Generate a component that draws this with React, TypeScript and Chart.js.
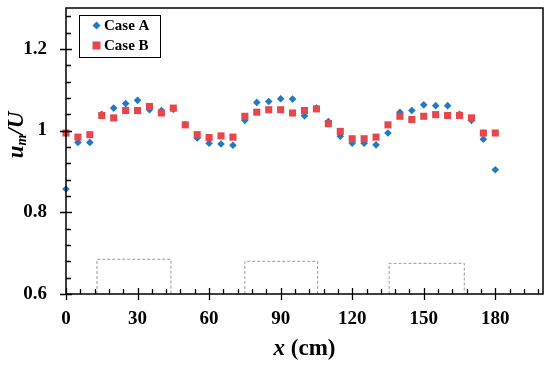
import React, { useEffect, useRef } from "react";
import { Chart, registerables } from "chart.js";

Chart.register(...registerables);

const positions = [0, 5, 10, 15, 20, 25, 30, 35, 40, 45, 50, 55, 60, 65, 70, 75, 80, 85, 90, 95, 100, 105, 110, 115, 120, 125, 130, 135, 140, 145, 150, 155, 160, 165, 170, 175, 180];
const caseA = [0.857, 0.971, 0.971, 1.04, 1.055, 1.066, 1.074, 1.051, 1.049, 1.052, 1.015, 0.982, 0.969, 0.967, 0.964, 1.025, 1.069, 1.071, 1.078, 1.077, 1.036, 1.055, 1.022, 0.986, 0.969, 0.969, 0.965, 0.994, 1.045, 1.049, 1.063, 1.061, 1.061, 1.04, 1.025, 0.979, 0.904];
const caseB = [0.994, 0.984, 0.99, 1.037, 1.031, 1.049, 1.049, 1.059, 1.043, 1.055, 1.014, 0.99, 0.983, 0.987, 0.984, 1.035, 1.045, 1.051, 1.051, 1.043, 1.049, 1.053, 1.017, 0.998, 0.98, 0.98, 0.984, 1.014, 1.035, 1.027, 1.035, 1.039, 1.037, 1.037, 1.031, 0.994, 0.994];

const boxStarts = [13, 75, 135.5];
const boxEnds = [44, 105.5, 167];
const boxTops = [0.685, 0.68, 0.675];
const boxBase = 0.6;

const xTickValues = [0, 30, 60, 90, 120, 150, 180];
const yTickValues = [0.6, 0.8, 1, 1.2];
const xMinorStep = 6;
const yMinorStep = 0.04;

const seriesNames = ["Case A", "Case B"];
const blue = "#1f7ac3";
const red = "#e5474c";
const serif = "'Liberation Serif', 'Times New Roman', serif";

const decorPlugin = {
  id: "decor",
  afterDraw(chart: any) {
    const ctx = chart.ctx;
    const area = chart.chartArea;
    const xs = chart.scales.x;
    const ys = chart.scales.y;
    ctx.save();
    // frame
    ctx.strokeStyle = "#000";
    ctx.lineWidth = 1.5;
    ctx.strokeRect(area.left, area.top, area.right - area.left, area.bottom - area.top);
    // ticks
    ctx.lineWidth = 1.3;
    ctx.beginPath();
    for (let v = 0.6; v < 1.3 - 1e-6; v += yMinorStep) {
      const y = Math.round(ys.getPixelForValue(v)) + 0.5;
      const major = yTickValues.some((t) => Math.abs(t - v) < 1e-6);
      ctx.moveTo(area.left - (major ? 6 : 0), y);
      ctx.lineTo(area.left + (major ? 6 : 5), y);
    }
    for (let v = 0; v < 200 - 1e-6; v += xMinorStep) {
      const x = Math.round(xs.getPixelForValue(v)) + 0.5;
      const major = xTickValues.some((t) => Math.abs(t - v) < 1e-6);
      ctx.moveTo(x, area.bottom + (major ? 6 : 0));
      ctx.lineTo(x, area.bottom - (major ? 6 : 5));
    }
    ctx.stroke();

    // legend
    ctx.lineWidth = 1;
    ctx.strokeStyle = "#000";
    ctx.strokeRect(79.5, 15.5, 81, 42);
    ctx.fillStyle = blue;
    ctx.beginPath();
    const dx = 96.5, dy = 25.5, r = 4;
    ctx.moveTo(dx, dy - r);
    ctx.lineTo(dx + r, dy);
    ctx.lineTo(dx, dy + r);
    ctx.lineTo(dx - r, dy);
    ctx.closePath();
    ctx.fill();
    ctx.fillStyle = red;
    ctx.fillRect(92.5, 41.5, 8, 8);
    ctx.fillStyle = "#000";
    ctx.font = `bold 15px ${serif}`;
    ctx.textBaseline = "middle";
    ctx.textAlign = "left";
    ctx.fillText(seriesNames[0], 104, 26);
    ctx.fillText(seriesNames[1], 104, 46);

    // x title
    ctx.textBaseline = "alphabetic";
    const xi = `italic bold 23px ${serif}`;
    const xn = `bold 23px ${serif}`;
    ctx.font = xi;
    const w1 = ctx.measureText("x").width;
    ctx.font = xn;
    const w2 = ctx.measureText(" (cm)").width;
    const cx = (area.left + area.right) / 2;
    const sx = cx - (w1 + w2) / 2;
    ctx.font = xi;
    ctx.fillText("x", sx, 355);
    ctx.font = xn;
    ctx.fillText(" (cm)", sx + w1, 355);

    // y title
    ctx.translate(23, 135);
    ctx.rotate(-Math.PI / 2);
    const big = `italic bold 23px ${serif}`;
    const small = `italic bold 14px ${serif}`;
    ctx.font = big;
    const a = ctx.measureText("u").width;
    const c = ctx.measureText("/U").width;
    ctx.font = small;
    const b = ctx.measureText("m").width;
    const px = -(a + b + c) / 2;
    ctx.font = big;
    ctx.fillText("u", px, 0);
    ctx.font = small;
    ctx.fillText("m", px + a, 3);
    ctx.font = big;
    ctx.fillText("/U", px + a + b, 0);
    ctx.restore();
  },
};

export default function App() {
  const ref = useRef<HTMLCanvasElement>(null);
  useEffect(() => {
    document.body.style.margin = "0";
    const boxDatasets = boxStarts.map((s, i) => ({
      label: "box" + i,
      data: [
        { x: s, y: boxBase },
        { x: s, y: boxTops[i] },
        { x: boxEnds[i], y: boxTops[i] },
        { x: boxEnds[i], y: boxBase },
      ],
      showLine: true,
      borderColor: "#9a9a9a",
      borderWidth: 1,
      borderDash: [3, 2],
      pointRadius: 0,
      order: 3,
    }));
    const zeroPad = (s: any) => {
      s.paddingTop = 0;
      s.paddingBottom = 0;
      s.paddingLeft = 0;
      s.paddingRight = 0;
    };
    const chart = new Chart(ref.current!, {
      type: "scatter",
      data: {
        datasets: [
          {
            label: seriesNames[0],
            data: positions.map((x, i) => ({ x, y: caseA[i] })),
            pointStyle: "rectRot",
            pointRadius: 3.8,
            pointBorderWidth: 0,
            backgroundColor: blue,
            borderColor: blue,
            order: 2,
            clip: false,
          },
          {
            label: seriesNames[1],
            data: positions.map((x, i) => ({ x, y: caseB[i] })),
            pointStyle: "rect",
            pointRadius: 5,
            pointBorderWidth: 0,
            backgroundColor: red,
            borderColor: red,
            order: 1,
            clip: false,
          },
          ...boxDatasets,
        ] as any,
      },
      options: {
        animation: false,
        responsive: false,
        maintainAspectRatio: false,
        layout: { padding: { top: 8, right: 7, left: 0, bottom: 0 } },
        plugins: { legend: { display: false }, tooltip: { enabled: false } },
        scales: {
          x: {
            type: "linear",
            min: 0,
            max: 200,
            grid: { display: false, drawTicks: false },
            border: { display: false },
            afterBuildTicks: (s: any) => {
              s.ticks = xTickValues.map((v) => ({ value: v }));
            },
            afterFit: (s: any) => {
              s.height = 72;
              zeroPad(s);
            },
            ticks: {
              padding: 14,
              color: "#000",
              font: { family: serif, size: 19, weight: "bold" },
              maxRotation: 0,
              callback: (v: any) => String(v),
            },
          },
          y: {
            type: "linear",
            min: 0.6,
            max: 1.3,
            grid: { display: false, drawTicks: false },
            border: { display: false },
            afterBuildTicks: (s: any) => {
              s.ticks = yTickValues.map((v) => ({ value: v }));
            },
            afterFit: (s: any) => {
              s.width = 66;
              zeroPad(s);
            },
            ticks: {
              padding: 19,
              color: "#000",
              font: { family: serif, size: 19, weight: "bold" },
              callback: (v: any) => String(Math.round(v * 10) / 10),
            },
          },
        },
      } as any,
      plugins: [decorPlugin],
    });
    return () => chart.destroy();
  }, []);
  return (
    <div style={{ width: 550, height: 366, background: "#fff" }}>
      <canvas ref={ref} width={550} height={366} style={{ display: "block" }} />
    </div>
  );
}
